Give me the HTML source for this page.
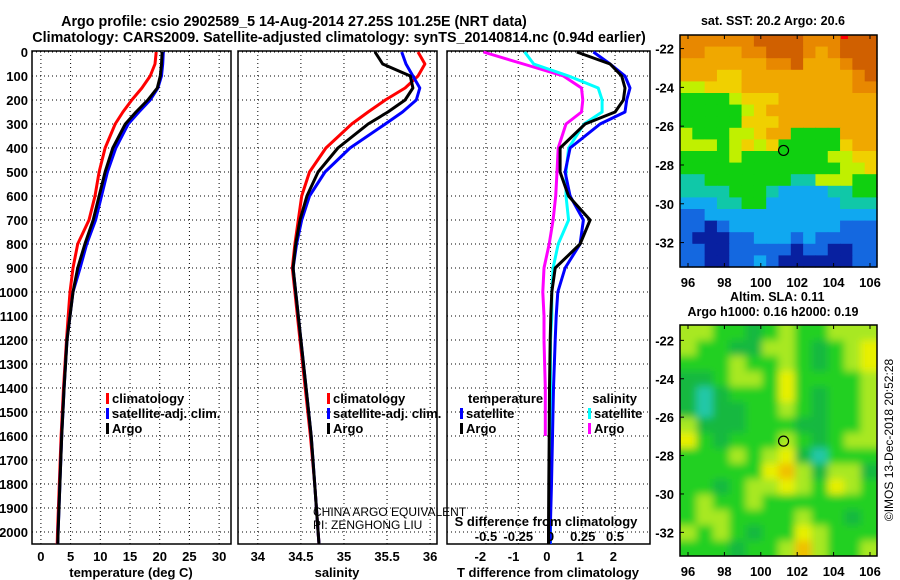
<!DOCTYPE html>
<html><head><meta charset="utf-8">
<style>
body{margin:0;background:#fff;}
svg{display:block;font-family:"Liberation Sans",sans-serif;}
</style></head>
<body>
<svg id="c" width="900" height="580" viewBox="0 0 900 580">
<defs><filter id="blur" x="0" y="0" width="100%" height="100%"><feGaussianBlur stdDeviation="4"/></filter>
<clipPath id="m2c"><rect x="680" y="325" width="197" height="231"/></clipPath></defs>
<text x="294" y="26" text-anchor="middle" font-size="14.3" font-weight="bold">Argo profile: csio 2902589_5 14-Aug-2014 27.25S 101.25E (NRT data)</text>
<text x="339" y="42" text-anchor="middle" font-size="14.3" font-weight="bold">Climatology: CARS2009. Satellite-adjusted climatology: synTS_20140814.nc (0.94d earlier)</text>
</svg>
<script>
// ---- data ----
const depths=[0,50,100,150,200,250,300,400,500,600,700,800,900,1000,1100,1200,1400,1600,1800,2000,2050];
const tempArgo=[20.4,20.3,20.1,19.6,18,16,14.2,12.1,10.8,9.8,8.8,7.4,6.2,5.4,4.9,4.4,3.9,3.5,3.2,2.9,2.85];
const tempClim=[19.4,19.2,18.4,17,15.3,13.8,12.5,10.8,9.8,9.1,8.1,6.2,5.4,4.9,4.6,4.3,3.8,3.4,3.1,2.8,2.75];
const tempSat=[20.6,20.5,20.3,19.7,18.4,16.5,14.7,12.6,11.2,10.2,9.2,7.7,6.6,5.4,4.9,4.4,3.9,3.5,3.2,2.9,2.85];
const salArgo=[35.36,35.45,35.77,35.80,35.71,35.51,35.28,34.93,34.70,34.57,34.49,34.44,34.41,34.44,34.47,34.50,34.56,34.62,34.66,34.70,34.71];
const salClim=[35.86,35.94,35.86,35.71,35.48,35.28,35.09,34.79,34.60,34.51,34.47,34.43,34.40,34.43,34.46,34.49,34.55,34.61,34.66,34.70,34.71];
const salSat=[35.67,35.72,35.80,35.88,35.84,35.68,35.48,35.07,34.78,34.60,34.51,34.45,34.41,34.44,34.47,34.50,34.56,34.62,34.66,34.70,34.71];
const dTsat=[1.4,1.9,2.35,2.5,2.4,2.35,1.6,0.7,0.55,0.7,1.1,1.0,0.55,0.33,0.28,0.25,0.2,0.17,0.14,0.1,0.1];
const dTargo=[0.9,1.9,2.25,2.35,2.3,2.05,1.15,0.4,0.4,0.65,1.3,1.0,0.25,0.15,0.12,0.1,0.08,0.07,0.06,0.05,0.05];
const dSsat=[-0.2,-0.13,0.14,0.37,0.40,0.40,0.26,0.14,0.12,0.12,0.14,0.06,0.02,0.01,0.01,0.0,0.0,0.0,0.0,0.0,0.0];
const dSargo=[-0.52,-0.21,0.10,0.24,0.25,0.24,0.12,0.06,0.05,0.04,0.02,-0.01,-0.05,-0.06,-0.05,-0.05,-0.04,-0.04,null,null,null];
const depthTicks=[0,100,200,300,400,500,600,700,800,900,1000,1100,1200,1300,1400,1500,1600,1700,1800,1900,2000];
const tTicks=[0,5,10,15,20,25,30];
const sTicks=[34,34.5,35,35.5,36];
const sTickLabels=["34","34.5","35","35.5","36"];
const dtTicks=[-2,-1,0,1,2];
const dsTicks=[-0.5,-0.25,0,0.25,0.5];
const dsTickLabels=["-0.5","-0.25","0","0.25","0.5"];
const lonTicks=[96,98,100,102,104,106];
const latTicks=[-22,-24,-26,-28,-30,-32];
const sstGrid=["8888889999888999","8877788999878999","7777777889777899","7776677777777789","5566677777777788","4444566677777777","4444456777777777","4444466677777777","5444556774444777","5554565644444677","4444544444445566","4444444444444556","3344444443355544","3333444322223344","2223344222222333","1122222222222222","1101222222222111","1000112221211111","1100111110110011","1100112100000011"];
const slaGrid=["332212322333","322113321234","222322321234","112332422223","101222421223","101122321223","311122211223","421222321233","222323410222","222224531331","221233432432","232232222222","233222232212","323212243222","222122353223"];
const sstColors=["#0820a0","#1468e0","#10a8f0","#10c8a8","#10d010","#c0f000","#f0d000","#f0a800","#e88800","#d06000"];
const slaColors=["#20c8a8","#18b840","#20d020","#a8e820","#e8f000","#f0c000"];
// ---- drawing ----
const NS="http://www.w3.org/2000/svg";
const svgRoot=document.getElementById('c');
function el(tag,attrs,parent){const e=document.createElementNS(NS,tag);for(const k in attrs)e.setAttribute(k,attrs[k]);(parent||svgRoot).appendChild(e);return e;}
const Y0=52,YS=0.24;
const yD=d=>Y0+d*YS;
const frameTop=51,frameBot=544;
const panels=[
 {x0:32,x1:231,min:-1.5,max:32,name:'temperature-panel'},
 {x0:238,x1:437,min:33.77,max:36.08,name:'salinity-panel'},
 {x0:447,x1:650,min:-3.0,max:3.1,name:'difference-panel'}];
const sx=(p,v)=>p.x0+(v-p.min)/(p.max-p.min)*(p.x1-p.x0);
const dsMin=-0.5-(486-447)/129;
const sxS=v=>447+(v-dsMin)*129;
function label(x,y,s,anchor,name,size,weight){const t=el('text',{x:x,y:y,'text-anchor':anchor||'start','font-size':size||13,'font-weight':weight||'bold'});t.textContent=s;


return t;}
panels.forEach(p=>{
 const g=el('g',{});
 
 
 depthTicks.forEach(d=>{const l=el('line',{x1:p.x0,x2:p.x1,y1:yD(d),y2:yD(d),stroke:'#000','stroke-dasharray':'1,3','stroke-width':1},g);
  
  });
 const r=el('rect',{x:p.x0,y:frameTop,width:p.x1-p.x0,height:frameBot-frameTop,fill:'none',stroke:'#000','stroke-width':1.5},g);
 
 
 p.g=g;
});
depthTicks.forEach(d=>{label(28,yD(d)+5,String(d),'end','depth-tick-label');});
function vgrid(p,x){const l=el('line',{x1:x,x2:x,y1:frameTop,y2:frameBot,stroke:'#000','stroke-dasharray':'1,3'},p.g);
 
 }
tTicks.forEach(v=>{const x=sx(panels[0],v);vgrid(panels[0],x);label(x,561,String(v),'middle','temperature-tick-label');});
sTicks.forEach((v,i)=>{const x=sx(panels[1],v);vgrid(panels[1],x);label(x,561,sTickLabels[i],'middle','salinity-tick-label');});
dtTicks.forEach(v=>{const x=sx(panels[2],v);label(x,561,String(v),'middle','t-diff-tick-label');});
dsTicks.forEach((v,i)=>{const x=sxS(v);vgrid(panels[2],x);label(x,541,dsTickLabels[i],'middle','s-diff-tick-label');});
label(131,577,'temperature (deg C)','middle','temperature-axis-title');
label(337,577,'salinity','middle','salinity-axis-title');
label(548,577,'T difference from climatology','middle','t-diff-axis-title');
label(546,526,'S difference from climatology','middle','s-diff-axis-title');
function line(p,vals,fx,color,name){let pts=[];vals.forEach((v,i)=>{if(v!==null)pts.push(fx(v).toFixed(1)+','+yD(depths[i]).toFixed(1));});
 const pl=el('polyline',{points:pts.join(' '),fill:'none',stroke:color,'stroke-width':3,'stroke-linejoin':'round'},p.g);
 
 }
const P0=panels[0],P1=panels[1],P2=panels[2];
line(P0,tempClim,v=>sx(P0,v),'#ff0000','temp-climatology-line');
line(P0,tempSat,v=>sx(P0,v),'#0000ff','temp-satellite-line');
line(P0,tempArgo,v=>sx(P0,v),'#000000','temp-argo-line');
line(P1,salClim,v=>sx(P1,v),'#ff0000','sal-climatology-line');
line(P1,salSat,v=>sx(P1,v),'#0000ff','sal-satellite-line');
line(P1,salArgo,v=>sx(P1,v),'#000000','sal-argo-line');
line(P2,dSargo,sxS,'#ff00ff','sdiff-argo-line');
line(P2,dSsat,sxS,'#00ffff','sdiff-satellite-line');
line(P2,dTsat,v=>sx(P2,v),'#0000ff','tdiff-satellite-line');
line(P2,dTargo,v=>sx(P2,v),'#000000','tdiff-argo-line');
function leg(x,y,color,txt,name){const r=el('rect',{x:x,y:y-10,width:3,height:11,fill:color});
 
 
 const t=el('text',{x:x+6,y:y,'font-size':13,'font-weight':'bold',fill:'#000'});t.textContent=txt;
 
 }
leg(106,403,'#ff0000','climatology','legend-climatology');
leg(106,418,'#0000ff','satellite-adj. clim.','legend-satellite-adj');
leg(106,433,'#000','Argo','legend-argo');
leg(327,403,'#ff0000','climatology','legend-sal-climatology');
leg(327,418,'#0000ff','satellite-adj. clim.','legend-sal-satellite-adj');
leg(327,433,'#000','Argo','legend-sal-argo');
label(468,403,'temperature','start','legend-temperature-heading');
leg(460,418,'#0000ff','satellite','legend-t-satellite');
leg(460,433,'#000','Argo','legend-t-argo');
label(637,403,'salinity','end','legend-salinity-heading');
leg(588,418,'#00ffff','satellite','legend-s-satellite');
leg(588,433,'#ff00ff','Argo','legend-s-argo');
label(313,516,'CHINA ARGO EQUIVALENT','start','pi-institution',12,'normal');
label(313,529,'PI: ZENGHONG LIU','start','pi-name',12,'normal');
// maps
function map(x0,y0,w,h,grid,colors,name,blur,latTop,latScale){
 const g=el('g',blur?{'clip-path':'url(#m2c)'}:{});
 
 
 const inner=el('g',blur?{filter:'url(#blur)'}:{},g);
 const rows=grid.length,cols=grid[0].length,cw=w/cols,ch=h/rows;
 const pad=blur?12:0;
 grid.forEach((row,ri)=>{for(let ci=0;ci<cols;ci++){
  let x=x0+ci*cw,y=y0+ri*ch,ww=cw+0.6,hh=ch+0.6;
  if(blur){if(ci==0){x-=pad;ww+=pad;}if(ci==cols-1)ww+=pad;if(ri==0){y-=pad;hh+=pad;}if(ri==rows-1)hh+=pad;}
  const c=el('rect',{x:x,y:y,width:ww,height:hh,fill:colors[+row[ci]]},inner);
  
  }});
 const fr=el('rect',{x:x0,y:y0,width:w,height:h,fill:'none',stroke:'#000','stroke-width':1.5});
 
 
 const lonX=v=>688+(v-96)*18.2;
 lonTicks.forEach(v=>{const x=lonX(v);el('line',{x1:x,x2:x,y1:y0,y2:y0+4,stroke:'#000'});el('line',{x1:x,x2:x,y1:y0+h,y2:y0+h-4,stroke:'#000'});
  label(x,y0+h+20,String(v),'middle',name+'-lon-label');});
 latTicks.forEach(v=>{const y=y0+(latTop-v)*latScale;el('line',{x1:x0,x2:x0+4,y1:y,y2:y,stroke:'#000'});
  label(x0-6,y+5,String(v),'end',name+'-lat-label');});
 const pos=el('circle',{cx:lonX(101.25),cy:y0+(latTop+27.25)*latScale,r:5,fill:'none',stroke:'#000','stroke-width':1.2});
 
 
}
map(680,35,197,232,sstGrid,sstColors,'sst-map',false,-21.3,19.4);
const red=el('rect',{x:841,y:36,width:7,height:3,fill:'#ff0000'});


map(680,325,197,231,slaGrid,slaColors,'sla-map',true,-21.2,19.2);
label(773,25,'sat. SST: 20.2 Argo: 20.6','middle','sst-map-title',12.5);
label(730,301,'Altim. SLA: 0.11','start','sla-map-title',12.5);
label(773,316,'Argo h1000: 0.16 h2000: 0.19','middle','sla-map-subtitle',12.5);
const cp=label(0,0,'©IMOS 13-Dec-2018 20:52:28','middle','copyright-stamp',12,'normal');
cp.setAttribute('transform','translate(893,440) rotate(-90)');
</script>
</body></html>
